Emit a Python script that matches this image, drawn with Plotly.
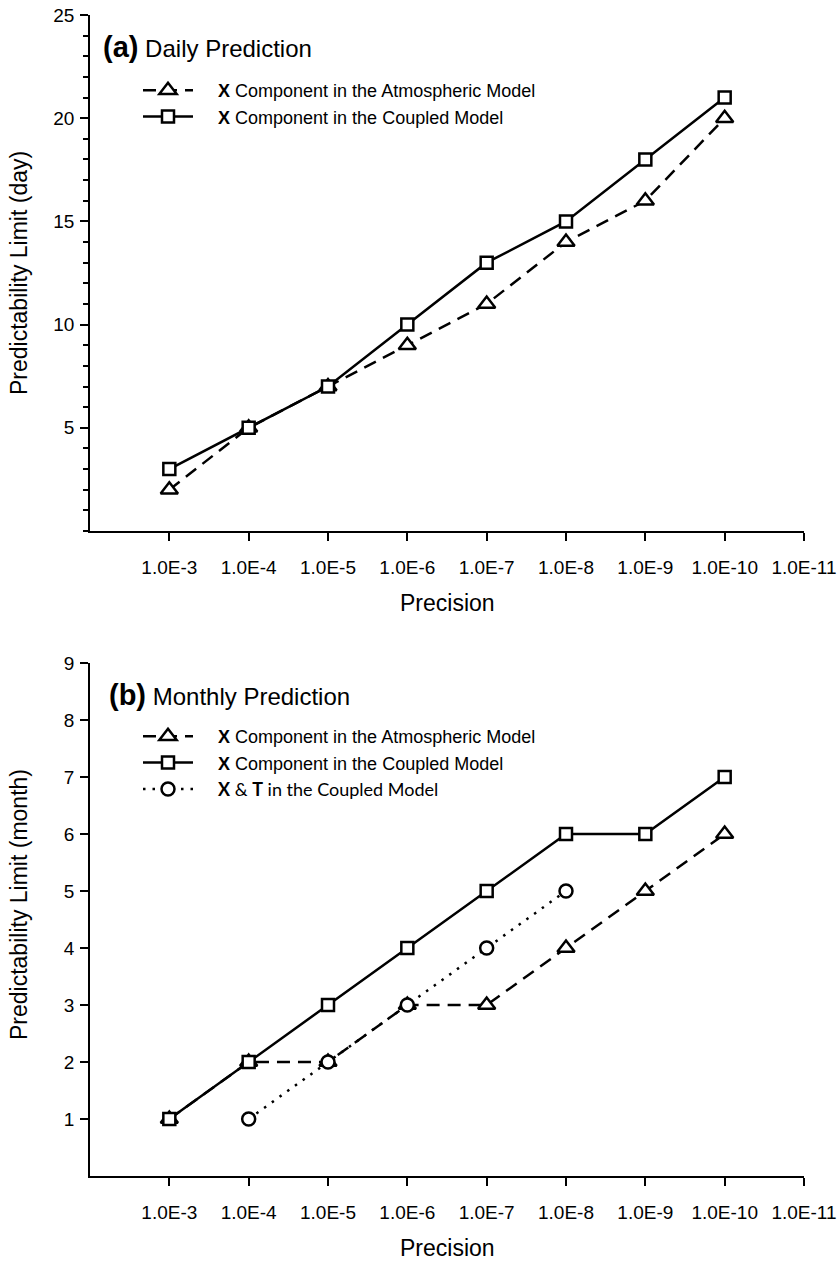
import plotly.graph_objects as go

precision_labels = ["1.0E-3", "1.0E-4", "1.0E-5", "1.0E-6", "1.0E-7",
                    "1.0E-8", "1.0E-9", "1.0E-10", "1.0E-11"]
data_x = precision_labels[:8]

daily_atmos = [2, 5, 7, 9, 11, 14, 16, 20]
daily_coupled = [3, 5, 7, 10, 13, 15, 18, 21]

monthly_x = precision_labels[:8]
monthly_atmos = [1, 2, 2, 3, 3, 4, 5, 6]
monthly_coupled = [1, 2, 3, 4, 5, 6, 6, 7]
xt_x = precision_labels[1:6]
monthly_xt = [1, 2, 3, 4, 5]

daily_yticks = [5, 10, 15, 20, 25]
monthly_yticks = [1, 2, 3, 4, 5, 6, 7, 8, 9]

FONT = "Liberation Sans"
W, H = 837, 1262
L, R = 90, 804
top_dom = [1 - 531 / H, 1 - 15 / H]
bot_dom = [1 - 1176 / H, 1 - 663 / H]
xdom = [L / W, R / W]

lw = 2.5
dash = "13px,8px"
dot = "2.5px,7px"
SP = "\u00a0\u00a0\u00a0\u00a0"

fig = go.Figure()

def tri(x, y, xa, ya, leg):
    return go.Scatter(x=x, y=y, xaxis=xa, yaxis=ya, mode="lines+markers",
                      name=SP + "<b>X</b> Component in the Atmospheric Model",
                      line=dict(color="black", width=lw, dash=dash),
                      marker=dict(symbol="triangle-up", size=15, color="white",
                                  line=dict(color="black", width=2.5)),
                      legend=leg, legendgroup=leg + "a", hoverinfo="skip")

def sq(x, y, xa, ya, leg):
    return go.Scatter(x=x, y=y, xaxis=xa, yaxis=ya, mode="lines+markers",
                      name=SP + "<b>X</b> Component in the Coupled Model",
                      line=dict(color="black", width=lw),
                      marker=dict(symbol="square", size=12, color="white",
                                  line=dict(color="black", width=2.5)),
                      legend=leg, legendgroup=leg + "b", hoverinfo="skip")

fig.add_trace(tri(data_x, daily_atmos, "x", "y", "legend"))
fig.add_trace(sq(data_x, daily_coupled, "x", "y", "legend"))
fig.add_trace(tri(monthly_x, monthly_atmos, "x2", "y2", "legend2"))
fig.add_trace(sq(monthly_x, monthly_coupled, "x2", "y2", "legend2"))
fig.add_trace(go.Scatter(x=xt_x, y=monthly_xt, xaxis="x2", yaxis="y2",
                         mode="lines+markers",
                         name=SP + "<span style='font-family:Lato'><b>X</b> &amp; <b>T</b> in the Coupled Model</span>",
                         line=dict(color="black", width=lw, dash=dot),
                         marker=dict(symbol="circle", size=13, color="white",
                                     line=dict(color="black", width=2.5)),
                         legend="legend2", legendgroup="l2c", hoverinfo="skip"))

tickfont = dict(family=FONT, size=19, color="black")
xcommon = dict(type="category", categoryorder="array", categoryarray=precision_labels,
               range=[-1, 8], showline=True, linecolor="black", linewidth=1.5,
               ticks="outside", ticklen=8, tickwidth=1.5, tickcolor="black",
               showgrid=False, zeroline=False, tickfont=tickfont, ticklabelstandoff=10,
               automargin=False)
xtop = dict(type="linear", range=[-1, 8], tick0=0, dtick=1, side="top",
            showline=True, linecolor="black", linewidth=1.5, ticks="inside",
            ticklen=8, tickwidth=1.5, tickcolor="black", showticklabels=False,
            showgrid=False, zeroline=False, automargin=False)

fig.update_layout(
    width=W, height=H, margin=dict(l=0, r=0, t=0, b=0, autoexpand=False),
    paper_bgcolor="white", plot_bgcolor="white",
    xaxis=dict(domain=xdom, anchor="y", **xcommon),
    xaxis2=dict(domain=xdom, anchor="y2", **xcommon),
    xaxis3=dict(domain=xdom, anchor="y", overlaying="x", **xtop),
    xaxis4=dict(domain=xdom, anchor="y2", overlaying="x2", **xtop),
    yaxis=dict(domain=top_dom, anchor="x", range=[0, 25], tickmode="array",
               tickvals=daily_yticks, showline=True, linecolor="black", linewidth=1.5,
               ticks="outside", ticklen=8, tickwidth=1.5, tickcolor="black",
               minor=dict(dtick=1, tick0=0, ticks="outside", ticklen=5, tickwidth=1.5,
                          tickcolor="black", showgrid=False),
               showgrid=False, zeroline=False, tickfont=tickfont, ticklabelstandoff=2,
               automargin=False),
    yaxis3=dict(domain=top_dom, anchor="x", overlaying="y", side="right", range=[0, 25],
                tick0=0, dtick=5, showline=True, linecolor="black", linewidth=1.5,
                ticks="inside", ticklen=8, tickwidth=1.5, tickcolor="black",
                minor=dict(dtick=1, tick0=0, ticks="inside", ticklen=6, tickwidth=1.5,
                           tickcolor="black", showgrid=False),
                showticklabels=False, showgrid=False, zeroline=False, automargin=False),
    yaxis2=dict(domain=bot_dom, anchor="x2", range=[0, 9], tickmode="array",
                tickvals=monthly_yticks, showline=True, linecolor="black", linewidth=1.5,
                ticks="outside", ticklen=8, tickwidth=1.5, tickcolor="black",
                showgrid=False, zeroline=False, tickfont=tickfont, ticklabelstandoff=2,
                automargin=False),
    yaxis4=dict(domain=bot_dom, anchor="x2", overlaying="y2", side="right", range=[0, 9],
                tick0=0, dtick=1, showline=True, linecolor="black", linewidth=1.5,
                ticks="inside", ticklen=8, tickwidth=1.5, tickcolor="black",
                showticklabels=False, showgrid=False, zeroline=False, automargin=False),
    legend=dict(x=138 / W, y=1 - 72 / H, xanchor="left", yanchor="top",
                bgcolor="rgba(0,0,0,0)", font=dict(family=FONT, size=18, color="black"),
                itemwidth=50, tracegroupgap=0, traceorder="normal"),
    legend2=dict(x=138 / W, y=1 - 718 / H, xanchor="left", yanchor="top",
                 bgcolor="rgba(0,0,0,0)", font=dict(family=FONT, size=18, color="black"),
                 itemwidth=50, tracegroupgap=0, traceorder="normal"),
    showlegend=True,
)

ann = []
ann.append(dict(text="<b>(a)</b><span style='font-size:24px'> Daily Prediction</span>",
                x=101 / W, y=1 - 47 / H, xref="paper", yref="paper",
                xanchor="left", yanchor="middle", showarrow=False,
                font=dict(family=FONT, size=29, color="black")))
ann.append(dict(text="<b>(b)</b><span style='font-size:24px'> Monthly Prediction</span>",
                x=107 / W, y=1 - 695 / H, xref="paper", yref="paper",
                xanchor="left", yanchor="middle", showarrow=False,
                font=dict(family=FONT, size=29, color="black")))
for txt, yc in [("Predictability Limit (day)", 273), ("Predictability Limit (month)", 905)]:
    ann.append(dict(text=txt, x=19 / W, y=1 - yc / H, xref="paper", yref="paper",
                    xanchor="center", yanchor="middle", textangle=-90, showarrow=False,
                    font=dict(family=FONT, size=23, color="black")))
for yc in [603, 1248]:
    ann.append(dict(text="Precision", x=(L + R) / 2 / W, y=1 - yc / H, xref="paper",
                    yref="paper", xanchor="center", yanchor="middle", showarrow=False,
                    font=dict(family=FONT, size=23, color="black")))
fig.update_layout(annotations=ann)

fig.write_html("out.html", config={"displayModeBar": False},
               post_script="document.body.style.margin='0';")
